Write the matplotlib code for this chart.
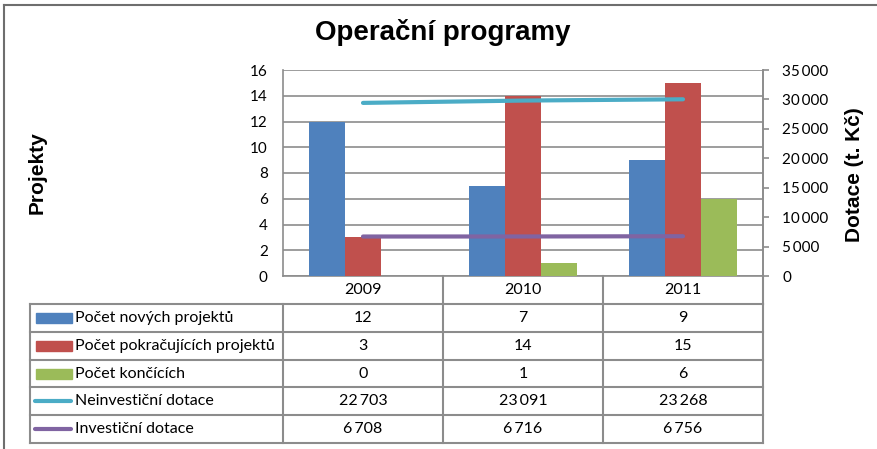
import numpy as np
import matplotlib
matplotlib.use("Agg")
import matplotlib.pyplot as plt
from matplotlib.lines import Line2D
from matplotlib.patches import Rectangle
from matplotlib.transforms import blended_transform_factory

# data
years = ["2009", "2010", "2011"]
novych = [12, 7, 9]
pokracujicich = [3, 14, 15]
koncicich = [0, 1, 6]
neinvesticni = [22703, 23091, 23268]
investicni = [6708, 6716, 6756]

bar_labels = ["Počet nových projektů", "Počet pokračujících projektů", "Počet končících"]
line_labels = ["Neinvestiční dotace", "Investiční dotace"]
left_ticks = [0, 2, 4, 6, 8, 10, 12, 14, 16]
right_ticks = [0, 5000, 10000, 15000, 20000, 25000, 30000, 35000]

bar_colors = ["#4F81BD", "#C0504D", "#9BBB59"]
line_colors = ["#4BACC6", "#8064A2"]
grid_color = "#8C8C8C"
body_font = "Lato"
head_font = "Liberation Sans"
tick_fs = 11
table_fs = 11.5
line_w = 3

W, H = 878, 449
fig = plt.figure(figsize=(W / 100, H / 100), dpi=100)


def fx(px):
    return px / W


def fy(py):
    return 1 - py / H


def fmt(v):
    return f"{v:,}".replace(",", "\u2009")


ax = fig.add_axes([fx(283), fy(276), fx(763) - fx(283), fy(70) - fy(276)])
x = np.arange(len(years))
bw = 0.225
for i, (vals, col) in enumerate(zip([novych, pokracujicich, koncicich], bar_colors)):
    ax.bar(x + (i - 1) * bw, vals, bw, color=col, zorder=3)
ax.set_xlim(-0.5, 2.5)
ax.set_ylim(0, 16)
ax.set_yticks(left_ticks)
ax.set_xticks([])
ax.yaxis.grid(True, color=grid_color, lw=1.2, zorder=0)
ax.set_axisbelow(True)
ax.tick_params(axis="y", length=0, pad=11, labelsize=tick_fs)
for lab in ax.get_yticklabels():
    lab.set_fontfamily(body_font)
ax.spines["top"].set_visible(False)
for s in ["left", "right", "bottom"]:
    ax.spines[s].set_color(grid_color)
    ax.spines[s].set_linewidth(1.2)

ax2 = ax.twinx()
ax2.set_ylim(0, 35000)
ax2.set_yticks(right_ticks)
ax2.set_yticklabels([fmt(v) for v in right_ticks], fontfamily=body_font, fontsize=tick_fs)
ax2.tick_params(axis="y", length=4, width=1.2, color=grid_color, pad=10)
for s in ["top", "left", "bottom"]:
    ax2.spines[s].set_visible(False)
ax2.spines["right"].set_color(grid_color)
ax2.spines["right"].set_linewidth(1.2)
# stacked lines: investiční at the base, neinvestiční on top
stack = np.add(investicni, neinvesticni)
ax2.plot(x, investicni, color=line_colors[1], lw=line_w, solid_capstyle="round", zorder=4)
ax2.plot(x, stack, color=line_colors[0], lw=line_w, solid_capstyle="round", zorder=4)

# titles
fig.text(fx(443), fy(33), "Operační programy", ha="center", va="center",
         fontsize=20, fontweight="bold", fontfamily=head_font)
fig.text(fx(37), fy(173), "Projekty", ha="center", va="center", rotation=90,
         fontsize=15, fontweight="bold", fontfamily=head_font)
fig.text(fx(855), fy(175), "Dotace (t. Kč)", ha="center", va="center", rotation=90,
         fontsize=15, fontweight="bold", fontfamily=head_font)

# data table below the plot
tr = blended_transform_factory(ax.transData, fig.transFigure)
tleft = -0.5 - (283 - 30) / 160
row_h = 27.8
top = 304
bottom = top + 5 * row_h
tkw = dict(color=grid_color, lw=1.5, transform=tr, clip_on=False)
for xb in [0.5, 1.5, 2.5]:
    fig.add_artist(Line2D([xb, xb], [fy(276), fy(top)], **tkw))
for xb in [tleft, -0.5, 0.5, 1.5, 2.5]:
    fig.add_artist(Line2D([xb, xb], [fy(top), fy(bottom)], **tkw))
for r in range(6):
    yy = fy(top + r * row_h)
    fig.add_artist(Line2D([tleft, 2.5], [yy, yy], **tkw))
for i, yr in enumerate(years):
    fig.text(x[i], fy(290), yr, transform=tr, ha="center", va="center",
             fontsize=table_fs, fontfamily=body_font)

rows = list(zip(bar_labels, [novych, pokracujicich, koncicich], bar_colors, ["bar"] * 3))
rows += [(line_labels[0], neinvesticni, line_colors[0], "line"),
         (line_labels[1], investicni, line_colors[1], "line")]
for r, (label, vals, col, kind) in enumerate(rows):
    yc = top + (r + 0.5) * row_h
    if kind == "bar":
        fig.add_artist(Rectangle((fx(36), fy(yc + 5)), fx(72) - fx(36), fy(yc - 5) - fy(yc + 5),
                                 transform=fig.transFigure, color=col))
    else:
        fig.add_artist(Line2D([fx(35), fx(71)], [fy(yc), fy(yc)], color=col, lw=line_w,
                              solid_capstyle="round", transform=fig.transFigure))
    fig.text(fx(75), fy(yc), label, ha="left", va="center", fontsize=table_fs, fontfamily=body_font)
    for i, v in enumerate(vals):
        fig.text(x[i], fy(yc), fmt(v), transform=tr, ha="center", va="center",
                 fontsize=table_fs, fontfamily=body_font)

# chart border
border = dict(color="#6E6E6E", lw=1.5, transform=fig.transFigure)
fig.add_artist(Line2D([fx(3.5), fx(3.5)], [fy(5), 0], **border))
fig.add_artist(Line2D([fx(3.5), 1], [fy(5), fy(5)], **border))

fig.savefig("out.png", dpi=100)
